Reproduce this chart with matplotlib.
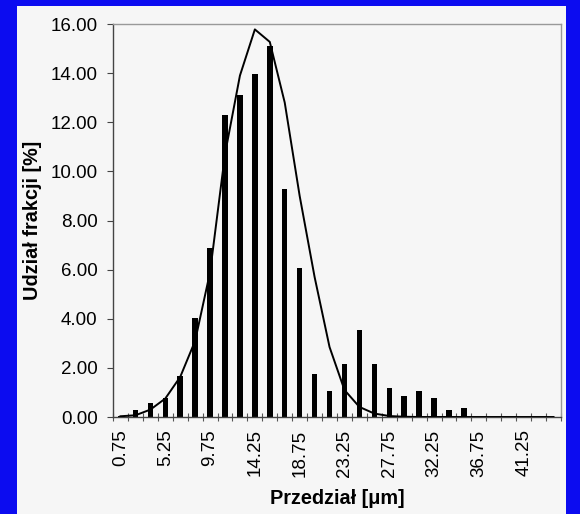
import matplotlib
matplotlib.use("Agg")
import matplotlib.pyplot as plt
from matplotlib.patches import Rectangle
import numpy as np

plt.rcParams['font.family'] = ['Liberation Sans', 'DejaVu Sans']

# Data
categories = [0.75 + 1.5 * i for i in range(30)]
tick_labels = ["0.75", "5.25", "9.75", "14.25", "18.75", "23.25", "27.75", "32.25", "36.75", "41.25"]
bar_values = [0.05, 0.27, 0.58, 0.77, 1.67, 4.05, 6.88, 12.28, 13.09, 13.98,
              15.09, 9.27, 6.07, 1.77, 1.07, 2.17, 3.56, 2.17, 1.17, 0.87,
              1.07, 0.77, 0.27, 0.38, 0.0, 0.0, 0.0, 0.0, 0.0, 0.0]
curve_values = [0.03, 0.07, 0.30, 0.75, 1.63, 3.10, 5.90, 10.70, 13.90, 15.78,
                15.27, 12.80, 9.00, 5.70, 2.85, 1.10, 0.41, 0.14, 0.04, 0.01,
                0.0, 0.0, 0.0, 0.0, 0.0, 0.0, 0.0, 0.0, 0.0, 0.0]

W, H = 580, 514
fig = plt.figure(figsize=(W / 100, H / 100), dpi=100)
fig.patch.set_facecolor('#0c0cf0')
fig.patches.append(Rectangle((17 / W, 0), (566 - 17) / W, (514 - 6) / H,
                             transform=fig.transFigure, facecolor='#f6f6f6',
                             edgecolor='none', zorder=-10))

ax = fig.add_axes([113 / W, 1 - 417 / H, (561 - 113) / W, (417 - 24) / H])
ax.set_facecolor('#f6f6f6')

x = np.arange(len(categories))
ax.bar(x, bar_values, width=0.37, color='black', zorder=2)
ax.plot(x, curve_values, color='black', lw=1.4, zorder=3)

ax.set_xlim(-0.5, len(categories) - 0.5)
ax.set_ylim(0, 16)

ax.set_yticks(np.arange(0, 16.1, 2))
ax.set_yticklabels([f"{v:.2f}" for v in np.arange(0, 16.1, 2)], fontsize=13.5)
ax.tick_params(axis='y', direction='out', length=4, width=0.8, color='#444444', pad=7)

label_pos = [i for i, c in enumerate(categories) if f"{c:.2f}" in tick_labels]
ax.set_xticks(label_pos)
ax.set_xticklabels(tick_labels, rotation=90, fontsize=13.5)
ax.set_xticks(np.arange(-0.5, len(categories)), minor=True)
ax.tick_params(axis='x', which='major', length=0, pad=9)
ax.tick_params(axis='x', which='minor', direction='inout', length=6, width=0.8, color='#555555')

for side in ['left', 'bottom']:
    ax.spines[side].set_color('#444444')
    ax.spines[side].set_linewidth(1.0)
for side in ['top', 'right']:
    ax.spines[side].set_color('#999999')
    ax.spines[side].set_linewidth(1.0)

ax.set_ylabel("Udział frakcji [%]", fontsize=14.3, fontweight='bold', labelpad=6)
ax.set_xlabel("Przedział [μm]", fontsize=14.3, fontweight='bold', labelpad=9)

fig.savefig("out.png", dpi=100, facecolor=fig.get_facecolor())
